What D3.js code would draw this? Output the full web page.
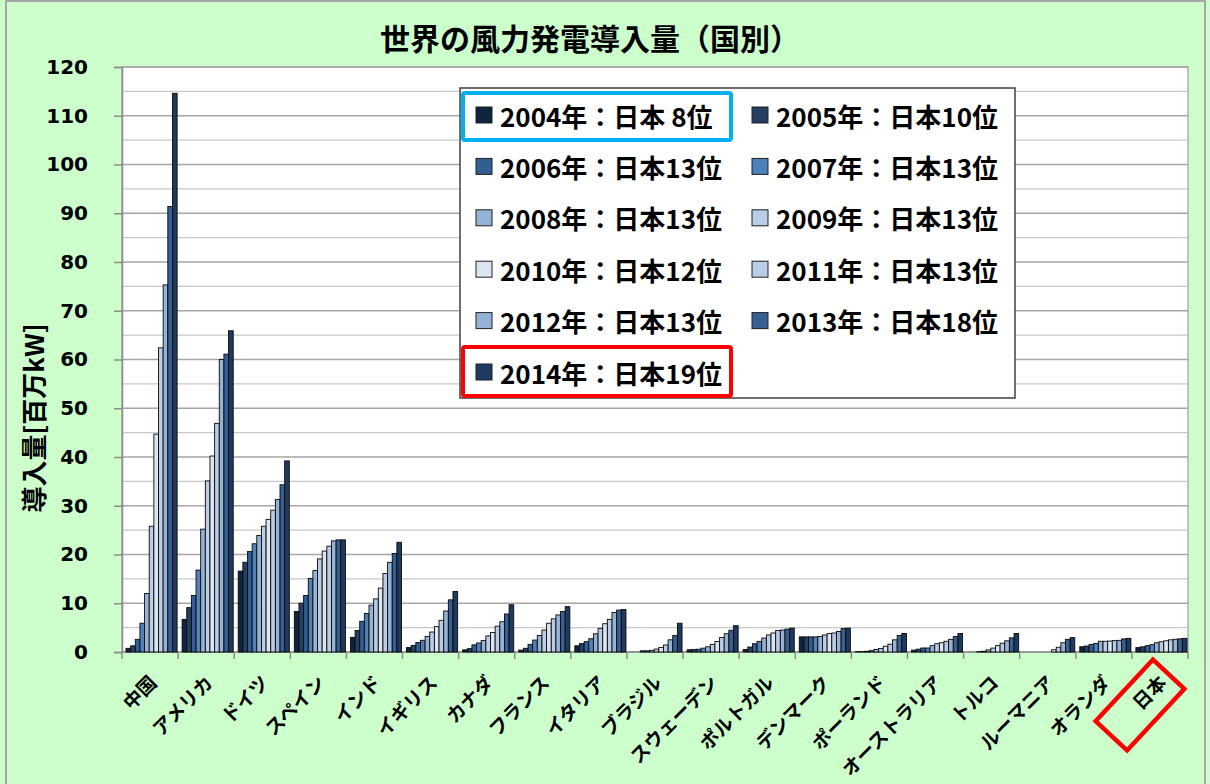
<!DOCTYPE html>
<html><head><meta charset="utf-8">
<script src="https://cdn.jsdelivr.net/npm/d3@7"></script>
<style>body{margin:0;background:#CCFFCC;} svg{display:block}</style>
</head><body><svg id="c" width="1210" height="784"></svg>
<script>
const countries = ["中国","アメリカ","ドイツ","スペイン","インド","イギリス","カナダ","フランス","イタリア","ブラジル","スウェーデン","ポルトガル","デンマーク","ポーランド","オーストラリア","トルコ","ルーマニア","オランダ","日本"];
const years = ["2004","2005","2006","2007","2008","2009","2010","2011","2012","2013","2014"];
const japanRanks = ["8","10","13","13","13","13","12","13","13","18","19"];
const yTicks = [0,10,20,30,40,50,60,70,80,90,100,110,120];
const colors = ["#0F243E","#243F60","#335E92","#4F81BD","#95B3D7","#B9CDE5","#DCE6F2","#B9CDE5","#95B3D7","#376092","#1F3A60"];

const v2004 = [0.76,6.7,16.6,8.3,3.0,0.9,0.44,0.39,1.27,0.03,0.45,0.52,3.1,0.06,0.38,0.02,0,1.08,0.9];
const v2005 = [1.26,9.1,18.4,10.0,4.4,1.35,0.68,0.76,1.72,0.03,0.51,1.02,3.1,0.08,0.58,0.02,0,1.22,1.06];
const v2006 = [2.6,11.6,20.6,11.6,6.3,1.96,1.46,1.57,2.12,0.24,0.57,1.7,3.1,0.15,0.82,0.07,0,1.56,1.3];
const v2007 = [5.9,16.8,22.2,15.1,7.9,2.4,1.85,2.45,2.73,0.25,0.79,2.15,3.1,0.28,0.82,0.15,0.01,1.75,1.5];
const v2008 = [12.0,25.2,23.9,16.7,9.6,3.2,2.37,3.4,3.74,0.34,1.07,2.86,3.2,0.54,1.3,0.43,0.01,2.2,1.9];
const v2009 = [25.8,35.1,25.8,19.1,10.9,4.1,3.3,4.5,4.85,0.6,1.56,3.5,3.5,0.72,1.7,0.8,0.01,2.2,2.1];
const v2010 = [44.7,40.2,27.2,20.7,13.1,5.2,4.0,5.9,5.8,0.93,2.16,3.9,3.8,1.18,1.9,1.3,0.46,2.24,2.3];
const v2011 = [62.4,46.9,29.1,21.7,16.1,6.5,5.3,6.8,6.7,1.43,2.97,4.4,3.9,1.6,2.2,1.8,0.98,2.33,2.5];
const v2012 = [75.3,60.0,31.3,22.8,18.4,8.4,6.2,7.6,8.1,2.5,3.75,4.5,4.2,2.5,2.6,2.3,1.9,2.39,2.6];
const v2013 = [91.4,61.1,34.3,23.0,20.2,10.7,7.8,8.3,8.6,3.4,4.47,4.7,4.8,3.4,3.2,2.9,2.6,2.69,2.7];
const v2014 = [114.6,65.9,39.2,23.0,22.5,12.4,9.7,9.3,8.7,5.9,5.4,4.9,4.9,3.8,3.8,3.8,2.95,2.8,2.8];
const series = [v2004,v2005,v2006,v2007,v2008,v2009,v2010,v2011,v2012,v2013,v2014];

const svg = d3.select("#c");
const L = 122, R = 1188, T = 67, B = 652;
const FJ = "'Noto Sans CJK JP','Noto Sans',sans-serif";

// outer border
svg.append("rect").attr("x",6).attr("y",1).attr("width",1199).attr("height",800)
  .attr("fill","#CCFFCC").attr("stroke","#A6A6A6").attr("stroke-width",2);

const x = d3.scaleBand().domain(countries).range([L,R]).padding(0);
const xi = d3.scaleBand().domain(years).range([4, x.bandwidth()-1]).padding(0);
const y = d3.scaleLinear().domain([0,120]).range([B,T]);

// plot area
svg.append("rect").attr("x",L).attr("y",T).attr("width",R-L).attr("height",B-T)
  .attr("fill","#FFFFFF").attr("stroke","#8C8C8C").attr("stroke-width",1);

// gridlines
const grid = d3.range(5,121,5);
svg.append("g").selectAll("line").data(grid).join("line")
  .attr("x1",L).attr("x2",R).attr("y1",d=>y(d)).attr("y2",d=>y(d))
  .attr("stroke",d=>d%10===0?"#A6A6A6":"#C8C8C8").attr("stroke-width",d=>d%10===0?1.5:1.2);

// y axis
const yAxis = d3.axisLeft(y).tickValues(yTicks).tickSize(8).tickPadding(26);
const gy = svg.append("g").attr("transform",`translate(${L},0)`).call(yAxis);
gy.select(".domain").attr("stroke","#8C8C8C").attr("stroke-width",1.5);
gy.selectAll(".tick line").attr("stroke","#8C8C8C").attr("stroke-width",1.5);
gy.selectAll(".tick text").attr("font-family","'DejaVu Sans',sans-serif").attr("font-weight","bold")
  .attr("font-size",20).attr("fill","#000");

// x axis
const gx = svg.append("g").attr("transform",`translate(0,${B})`);
gx.append("line").attr("x1",L).attr("x2",R).attr("stroke","#8C8C8C").attr("stroke-width",1.5);
gx.selectAll("line.t").data(countries.concat(["__end"])).join("line").attr("class","t")
  .attr("x1",(d,i)=>L+i*x.bandwidth()).attr("x2",(d,i)=>L+i*x.bandwidth())
  .attr("y1",0).attr("y2",7).attr("stroke","#8C8C8C").attr("stroke-width",1.5);

// bars
const gb = svg.append("g");
series.forEach((vals,si)=>{
  gb.append("g").selectAll("rect").data(vals).join("rect")
    .attr("x",(d,i)=>x(countries[i])+xi(years[si]))
    .attr("y",d=>y(d))
    .attr("width",xi.bandwidth())
    .attr("height",d=>B-y(d))
    .attr("fill",colors[si])
    .attr("stroke",d=>d>0.05?"#0A0A0A":"none").attr("stroke-width",0.9);
});

// x labels
svg.append("g").selectAll("text").data(countries).join("text")
  .attr("transform",d=>`translate(${x(d)+x.bandwidth()/2+2},678) rotate(-45)`)
  .attr("text-anchor","end").attr("dominant-baseline","central")
  .attr("font-family",FJ).attr("font-weight","bold").attr("font-size",19).attr("fill","#000")
  .text(d=>d);

// Japan diamond
svg.append("rect").attr("x",-42).attr("y",-21.5).attr("width",84).attr("height",43)
  .attr("transform","translate(1140,705) rotate(-47)")
  .attr("fill","none").attr("stroke","#FF0000").attr("stroke-width",4.5);

// y label
svg.append("text").attr("transform","translate(32,418) rotate(-90)")
  .attr("text-anchor","middle").attr("dominant-baseline","central")
  .attr("font-family",FJ).attr("font-weight","bold").attr("font-size",26).attr("fill","#000")
  .text("導入量[百万kW]");

// title
svg.append("text").attr("x",590).attr("y",37).attr("text-anchor","middle").attr("dominant-baseline","central")
  .attr("font-family",FJ).attr("font-weight","bold").attr("font-size",30).attr("fill","#000")
  .text("世界の風力発電導入量（国別）");

// legend
const lg = svg.append("g");
lg.append("rect").attr("x",460).attr("y",88).attr("width",555).attr("height",310)
  .attr("fill","#fff").attr("stroke","#404040").attr("stroke-width",1.5);
const items = years.map((yr,i)=>({yr,i,label:`${yr}年：日本${japanRanks[i].length<2?" ":""}${japanRanks[i]}位`}));
const li = lg.selectAll("g.it").data(items).join("g").attr("class","it")
  .attr("transform",d=>`translate(${d.i%2===0?476:752},${115+Math.floor(d.i/2)*51.4})`);
li.append("rect").attr("x",0).attr("y",-8).attr("width",16).attr("height",16)
  .attr("fill",d=>colors[d.i]).attr("stroke","#202020").attr("stroke-width",1);
li.append("text").attr("x",24).attr("dominant-baseline","central")
  .attr("font-family",FJ).attr("font-weight","bold").attr("font-size",26).attr("fill","#000")
  .text(d=>d.label);
lg.append("rect").attr("x",463).attr("y",93).attr("width",268).attr("height",47)
  .attr("fill","none").attr("stroke","#00B0F0").attr("stroke-width",4).attr("rx",2);
lg.append("rect").attr("x",463).attr("y",347).attr("width",268).attr("height",49)
  .attr("fill","none").attr("stroke","#FF0000").attr("stroke-width",4).attr("rx",2);
</script></body></html>
